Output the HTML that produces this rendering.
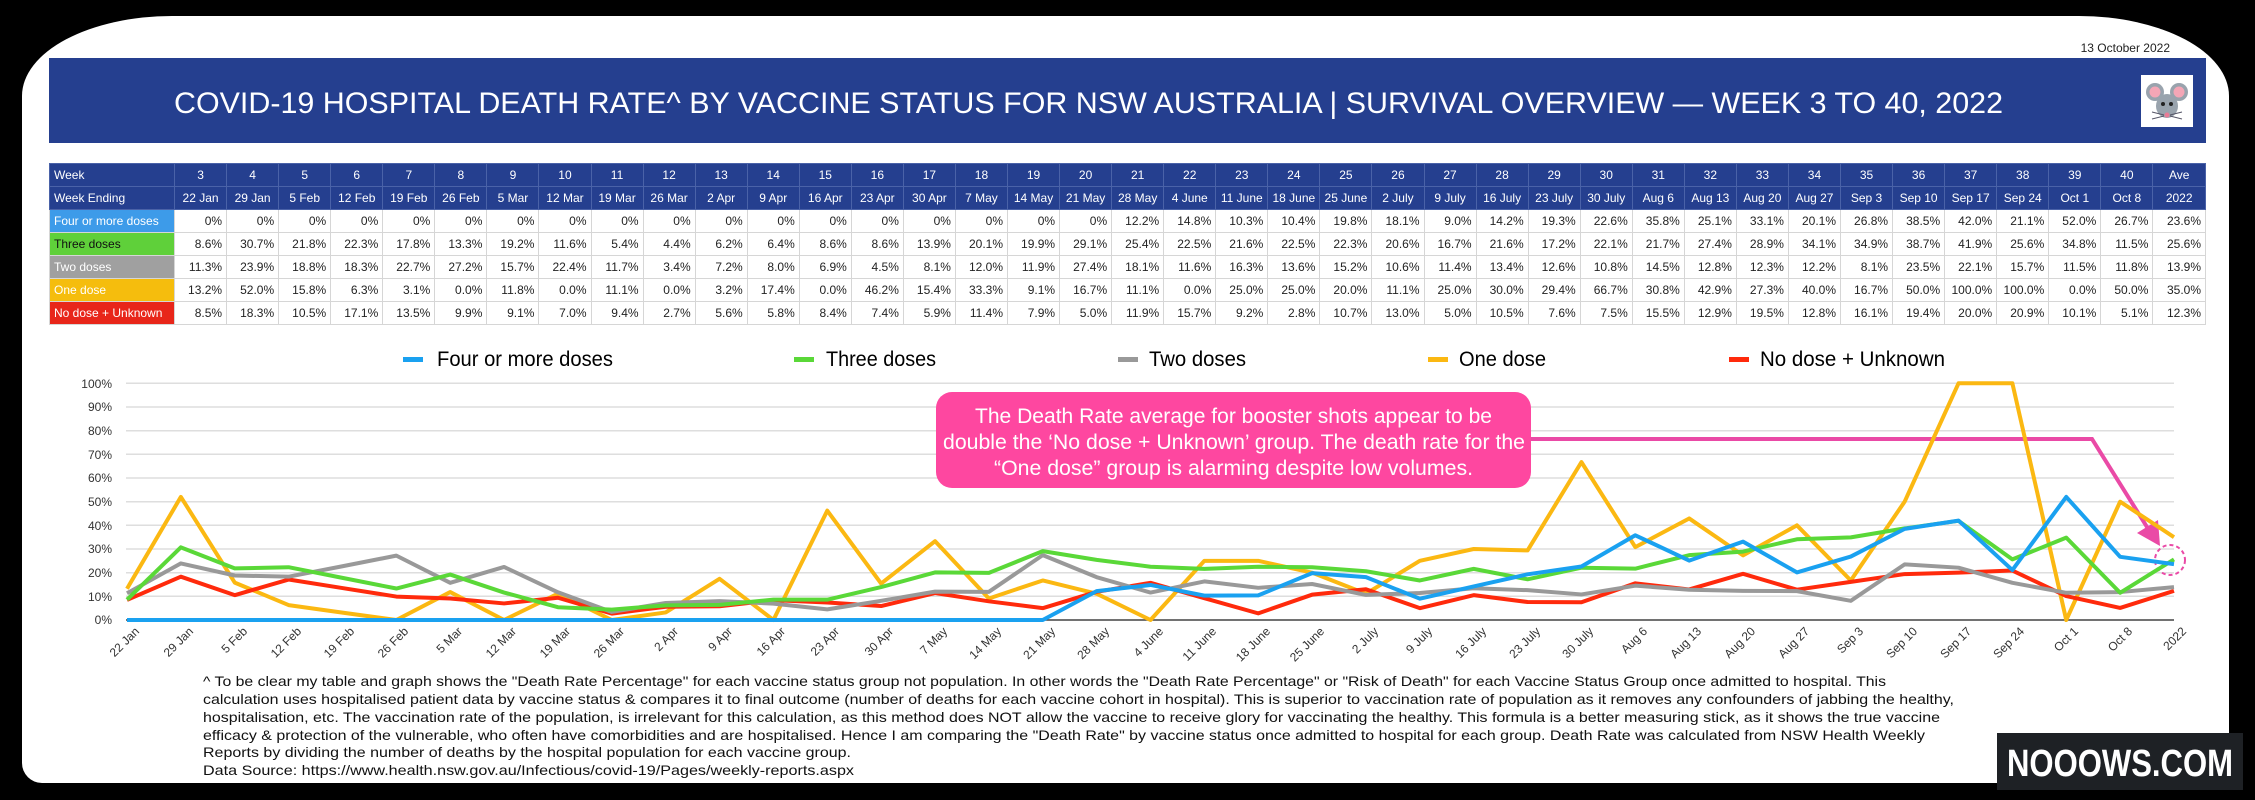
<!DOCTYPE html>
<html><head><meta charset="utf-8"><style>
html,body{margin:0;padding:0;background:#000;}
body{width:2255px;height:800px;position:relative;overflow:hidden;font-family:"Liberation Sans",sans-serif;}
#card{position:absolute;left:22px;top:16px;width:2207px;height:767px;background:#fff;border-radius:150px 150px 20px 20px / 80px 80px 20px 20px;}
table{position:absolute;left:49px;top:163px;width:2157px;border-collapse:collapse;table-layout:fixed;font-size:12px;}
td{height:22px;padding:0 4px 0 0;text-align:right;border:1px solid #d6d6d6;color:#222;white-space:nowrap;overflow:hidden;}
tr.h td{background:#253f8f;color:#fff;text-align:center;padding:0;border-color:#4a62a8;}
td.l{text-align:left;padding-left:4px;color:#fff;}
tr.h td.l{text-align:left;padding-left:4px}
.b td.l{background:#3d9be9}.g td.l{background:#5fd03a;color:#111}.y td.l{background:#f5bd0d}.gr td.l{background:#a0a0a0}.r td.l{background:#e8261a}
svg{position:absolute;left:0;top:0}
</style></head><body>
<div id="card"></div>
<table>
<colgroup><col style="width:125px"></colgroup>
<tr class="h"><td class="l">Week</td><td>3</td><td>4</td><td>5</td><td>6</td><td>7</td><td>8</td><td>9</td><td>10</td><td>11</td><td>12</td><td>13</td><td>14</td><td>15</td><td>16</td><td>17</td><td>18</td><td>19</td><td>20</td><td>21</td><td>22</td><td>23</td><td>24</td><td>25</td><td>26</td><td>27</td><td>28</td><td>29</td><td>30</td><td>31</td><td>32</td><td>33</td><td>34</td><td>35</td><td>36</td><td>37</td><td>38</td><td>39</td><td>40</td><td>Ave</td></tr>
<tr class="h"><td class="l">Week Ending</td><td>22 Jan</td><td>29 Jan</td><td>5 Feb</td><td>12 Feb</td><td>19 Feb</td><td>26 Feb</td><td>5 Mar</td><td>12 Mar</td><td>19 Mar</td><td>26 Mar</td><td>2 Apr</td><td>9 Apr</td><td>16 Apr</td><td>23 Apr</td><td>30 Apr</td><td>7 May</td><td>14 May</td><td>21 May</td><td>28 May</td><td>4 June</td><td>11 June</td><td>18 June</td><td>25 June</td><td>2 July</td><td>9 July</td><td>16 July</td><td>23 July</td><td>30 July</td><td>Aug 6</td><td>Aug 13</td><td>Aug 20</td><td>Aug 27</td><td>Sep 3</td><td>Sep 10</td><td>Sep 17</td><td>Sep 24</td><td>Oct 1</td><td>Oct 8</td><td>2022</td></tr>
<tr class="b"><td class="l">Four or more doses</td><td>0%</td><td>0%</td><td>0%</td><td>0%</td><td>0%</td><td>0%</td><td>0%</td><td>0%</td><td>0%</td><td>0%</td><td>0%</td><td>0%</td><td>0%</td><td>0%</td><td>0%</td><td>0%</td><td>0%</td><td>0%</td><td>12.2%</td><td>14.8%</td><td>10.3%</td><td>10.4%</td><td>19.8%</td><td>18.1%</td><td>9.0%</td><td>14.2%</td><td>19.3%</td><td>22.6%</td><td>35.8%</td><td>25.1%</td><td>33.1%</td><td>20.1%</td><td>26.8%</td><td>38.5%</td><td>42.0%</td><td>21.1%</td><td>52.0%</td><td>26.7%</td><td>23.6%</td></tr>
<tr class="g"><td class="l">Three doses</td><td>8.6%</td><td>30.7%</td><td>21.8%</td><td>22.3%</td><td>17.8%</td><td>13.3%</td><td>19.2%</td><td>11.6%</td><td>5.4%</td><td>4.4%</td><td>6.2%</td><td>6.4%</td><td>8.6%</td><td>8.6%</td><td>13.9%</td><td>20.1%</td><td>19.9%</td><td>29.1%</td><td>25.4%</td><td>22.5%</td><td>21.6%</td><td>22.5%</td><td>22.3%</td><td>20.6%</td><td>16.7%</td><td>21.6%</td><td>17.2%</td><td>22.1%</td><td>21.7%</td><td>27.4%</td><td>28.9%</td><td>34.1%</td><td>34.9%</td><td>38.7%</td><td>41.9%</td><td>25.6%</td><td>34.8%</td><td>11.5%</td><td>25.6%</td></tr>
<tr class="gr"><td class="l">Two doses</td><td>11.3%</td><td>23.9%</td><td>18.8%</td><td>18.3%</td><td>22.7%</td><td>27.2%</td><td>15.7%</td><td>22.4%</td><td>11.7%</td><td>3.4%</td><td>7.2%</td><td>8.0%</td><td>6.9%</td><td>4.5%</td><td>8.1%</td><td>12.0%</td><td>11.9%</td><td>27.4%</td><td>18.1%</td><td>11.6%</td><td>16.3%</td><td>13.6%</td><td>15.2%</td><td>10.6%</td><td>11.4%</td><td>13.4%</td><td>12.6%</td><td>10.8%</td><td>14.5%</td><td>12.8%</td><td>12.3%</td><td>12.2%</td><td>8.1%</td><td>23.5%</td><td>22.1%</td><td>15.7%</td><td>11.5%</td><td>11.8%</td><td>13.9%</td></tr>
<tr class="y"><td class="l">One dose</td><td>13.2%</td><td>52.0%</td><td>15.8%</td><td>6.3%</td><td>3.1%</td><td>0.0%</td><td>11.8%</td><td>0.0%</td><td>11.1%</td><td>0.0%</td><td>3.2%</td><td>17.4%</td><td>0.0%</td><td>46.2%</td><td>15.4%</td><td>33.3%</td><td>9.1%</td><td>16.7%</td><td>11.1%</td><td>0.0%</td><td>25.0%</td><td>25.0%</td><td>20.0%</td><td>11.1%</td><td>25.0%</td><td>30.0%</td><td>29.4%</td><td>66.7%</td><td>30.8%</td><td>42.9%</td><td>27.3%</td><td>40.0%</td><td>16.7%</td><td>50.0%</td><td>100.0%</td><td>100.0%</td><td>0.0%</td><td>50.0%</td><td>35.0%</td></tr>
<tr class="r"><td class="l">No dose + Unknown</td><td>8.5%</td><td>18.3%</td><td>10.5%</td><td>17.1%</td><td>13.5%</td><td>9.9%</td><td>9.1%</td><td>7.0%</td><td>9.4%</td><td>2.7%</td><td>5.6%</td><td>5.8%</td><td>8.4%</td><td>7.4%</td><td>5.9%</td><td>11.4%</td><td>7.9%</td><td>5.0%</td><td>11.9%</td><td>15.7%</td><td>9.2%</td><td>2.8%</td><td>10.7%</td><td>13.0%</td><td>5.0%</td><td>10.5%</td><td>7.6%</td><td>7.5%</td><td>15.5%</td><td>12.9%</td><td>19.5%</td><td>12.8%</td><td>16.1%</td><td>19.4%</td><td>20.0%</td><td>20.9%</td><td>10.1%</td><td>5.1%</td><td>12.3%</td></tr>
</table>
<svg width="2255" height="800" viewBox="0 0 2255 800" font-family="Liberation Sans, sans-serif">
<text x="2170" y="52" font-size="12" fill="#222" text-anchor="end">13 October 2022</text>
<rect x="49" y="58" width="2157" height="85" fill="#253f8f"/>
<text x="174" y="113" font-size="30" fill="#fff" textLength="1829" lengthAdjust="spacingAndGlyphs">COVID-19 HOSPITAL DEATH RATE^ BY VACCINE STATUS FOR NSW AUSTRALIA  |  SURVIVAL OVERVIEW — WEEK 3 TO 40, 2022</text>
<rect x="2141" y="75" width="52" height="52" fill="#fff"/>
<circle cx="2155" cy="92" r="9" fill="#99a3ad"/><circle cx="2179" cy="92" r="9" fill="#99a3ad"/>
<circle cx="2155" cy="92" r="5.5" fill="#f4a6b6"/><circle cx="2179" cy="92" r="5.5" fill="#f4a6b6"/>
<ellipse cx="2167" cy="106" rx="11" ry="12" fill="#99a3ad"/>
<circle cx="2163" cy="104" r="2" fill="#222"/><circle cx="2171" cy="104" r="2" fill="#222"/>
<circle cx="2167" cy="115" r="2.5" fill="#e97a95"/>
<path d="M2152 112 L2164 115 M2152 119 L2164 116 M2182 112 L2170 115 M2182 119 L2170 116" stroke="#556" stroke-width="1"/>
<!-- legend -->
<g font-size="21">
<rect x="403" y="357" width="20" height="5" fill="#1aa1f0"/><text x="437" y="366" textLength="176" lengthAdjust="spacingAndGlyphs">Four or more doses</text>
<rect x="794" y="357" width="20" height="5" fill="#5ad838"/><text x="826" y="366" textLength="110" lengthAdjust="spacingAndGlyphs">Three doses</text>
<rect x="1118" y="357" width="20" height="5" fill="#999"/><text x="1149" y="366" textLength="97" lengthAdjust="spacingAndGlyphs">Two doses</text>
<rect x="1428" y="357" width="20" height="5" fill="#fbb812"/><text x="1459" y="366" textLength="87" lengthAdjust="spacingAndGlyphs">One dose</text>
<rect x="1729" y="357" width="20" height="5" fill="#ff2a0c"/><text x="1760" y="366" textLength="185" lengthAdjust="spacingAndGlyphs">No dose + Unknown</text>
</g>
<!-- grid -->
<g stroke="#dedede" stroke-width="1.5">
<line x1="126" x2="2174" y1="383.3" y2="383.3"/><line x1="126" x2="2174" y1="407" y2="407"/><line x1="126" x2="2174" y1="430.7" y2="430.7"/><line x1="126" x2="2174" y1="454.3" y2="454.3"/><line x1="126" x2="2174" y1="478" y2="478"/><line x1="126" x2="2174" y1="501.7" y2="501.7"/><line x1="126" x2="2174" y1="525.3" y2="525.3"/><line x1="126" x2="2174" y1="549" y2="549"/><line x1="126" x2="2174" y1="572.7" y2="572.7"/><line x1="126" x2="2174" y1="596.3" y2="596.3"/>
</g>
<line x1="126" x2="2174" y1="620" y2="620" stroke="#444" stroke-width="1.5"/>
<g font-size="12" fill="#333" text-anchor="end">
<text x="112" y="388">100%</text><text x="112" y="411">90%</text><text x="112" y="435">80%</text><text x="112" y="459">70%</text><text x="112" y="482">60%</text><text x="112" y="506">50%</text><text x="112" y="530">40%</text><text x="112" y="553">30%</text><text x="112" y="577">20%</text><text x="112" y="601">10%</text><text x="112" y="624">0%</text>
</g>
<!-- callout -->
<path d="M1531 439 H2092 L2152 535" fill="none" stroke="#ea4aa6" stroke-width="4"/>
<polygon points="2160,546 2137,533 2158,520" fill="#ea4aa6"/>
<circle cx="2170" cy="560" r="15" fill="none" stroke="#ea4aa6" stroke-width="2" stroke-dasharray="4 3"/>
<g fill="none" stroke-width="4" stroke-linejoin="round" transform="translate(127,620) scale(53.868,-2.367)">
<polyline vector-effect="non-scaling-stroke" stroke="#fbb812" points="0,13.2 1,52 2,15.8 3,6.3 4,3.1 5,0 6,11.8 7,0 8,11.1 9,0 10,3.2 11,17.4 12,0 13,46.2 14,15.4 15,33.3 16,9.1 17,16.7 18,11.1 19,0 20,25 21,25 22,20 23,11.1 24,25 25,30 26,29.4 27,66.7 28,30.8 29,42.9 30,27.3 31,40 32,16.7 33,50 34,100 35,100 36,0 37,50 38,35"/>
<polyline vector-effect="non-scaling-stroke" stroke="#ff2a0c" points="0,8.5 1,18.3 2,10.5 3,17.1 4,13.5 5,9.9 6,9.1 7,7 8,9.4 9,2.7 10,5.6 11,5.8 12,8.4 13,7.4 14,5.9 15,11.4 16,7.9 17,5 18,11.9 19,15.7 20,9.2 21,2.8 22,10.7 23,13 24,5 25,10.5 26,7.6 27,7.5 28,15.5 29,12.9 30,19.5 31,12.8 32,16.1 33,19.4 34,20 35,20.9 36,10.1 37,5.1 38,12.3"/>
<polyline vector-effect="non-scaling-stroke" stroke="#999" points="0,11.3 1,23.9 2,18.8 3,18.3 4,22.7 5,27.2 6,15.7 7,22.4 8,11.7 9,3.4 10,7.2 11,8 12,6.9 13,4.5 14,8.1 15,12 16,11.9 17,27.4 18,18.1 19,11.6 20,16.3 21,13.6 22,15.2 23,10.6 24,11.4 25,13.4 26,12.6 27,10.8 28,14.5 29,12.8 30,12.3 31,12.2 32,8.1 33,23.5 34,22.1 35,15.7 36,11.5 37,11.8 38,13.9"/>
<polyline vector-effect="non-scaling-stroke" stroke="#5ad838" points="0,8.6 1,30.7 2,21.8 3,22.3 4,17.8 5,13.3 6,19.2 7,11.6 8,5.4 9,4.4 10,6.2 11,6.4 12,8.6 13,8.6 14,13.9 15,20.1 16,19.9 17,29.1 18,25.4 19,22.5 20,21.6 21,22.5 22,22.3 23,20.6 24,16.7 25,21.6 26,17.2 27,22.1 28,21.7 29,27.4 30,28.9 31,34.1 32,34.9 33,38.7 34,41.9 35,25.6 36,34.8 37,11.5 38,25.6"/>
<polyline vector-effect="non-scaling-stroke" stroke="#1aa1f0" points="0,0 17,0 18,12.2 19,14.8 20,10.3 21,10.4 22,19.8 23,18.1 24,9 25,14.2 26,19.3 27,22.6 28,35.8 29,25.1 30,33.1 31,20.1 32,26.8 33,38.5 34,42 35,21.1 36,52 37,26.7 38,23.6"/>
</g>
<rect x="936" y="392" width="595" height="96" rx="16" fill="#fe47a0"/>
<g font-size="21" fill="#fff">
<text x="975" y="423" textLength="517" lengthAdjust="spacingAndGlyphs">The Death Rate average for booster shots appear to be</text>
<text x="943" y="449" textLength="582" lengthAdjust="spacingAndGlyphs">double the ‘No dose + Unknown’ group. The death rate for the</text>
<text x="994" y="475" textLength="479" lengthAdjust="spacingAndGlyphs">“One dose” group is alarming despite low volumes.</text>
</g>
<!-- x labels -->
<g font-size="12" fill="#333" text-anchor="end">
<text transform="translate(140,632) rotate(-45)">22 Jan</text>
<text transform="translate(194,632) rotate(-45)">29 Jan</text>
<text transform="translate(248,632) rotate(-45)">5 Feb</text>
<text transform="translate(302,632) rotate(-45)">12 Feb</text>
<text transform="translate(355,632) rotate(-45)">19 Feb</text>
<text transform="translate(409,632) rotate(-45)">26 Feb</text>
<text transform="translate(463,632) rotate(-45)">5 Mar</text>
<text transform="translate(517,632) rotate(-45)">12 Mar</text>
<text transform="translate(571,632) rotate(-45)">19 Mar</text>
<text transform="translate(625,632) rotate(-45)">26 Mar</text>
<text transform="translate(679,632) rotate(-45)">2 Apr</text>
<text transform="translate(733,632) rotate(-45)">9 Apr</text>
<text transform="translate(786,632) rotate(-45)">16 Apr</text>
<text transform="translate(840,632) rotate(-45)">23 Apr</text>
<text transform="translate(894,632) rotate(-45)">30 Apr</text>
<text transform="translate(948,632) rotate(-45)">7 May</text>
<text transform="translate(1002,632) rotate(-45)">14 May</text>
<text transform="translate(1056,632) rotate(-45)">21 May</text>
<text transform="translate(1110,632) rotate(-45)">28 May</text>
<text transform="translate(1164,632) rotate(-45)">4 June</text>
<text transform="translate(1217,632) rotate(-45)">11 June</text>
<text transform="translate(1271,632) rotate(-45)">18 June</text>
<text transform="translate(1325,632) rotate(-45)">25 June</text>
<text transform="translate(1379,632) rotate(-45)">2 July</text>
<text transform="translate(1433,632) rotate(-45)">9 July</text>
<text transform="translate(1487,632) rotate(-45)">16 July</text>
<text transform="translate(1541,632) rotate(-45)">23 July</text>
<text transform="translate(1594,632) rotate(-45)">30 July</text>
<text transform="translate(1648,632) rotate(-45)">Aug 6</text>
<text transform="translate(1702,632) rotate(-45)">Aug 13</text>
<text transform="translate(1756,632) rotate(-45)">Aug 20</text>
<text transform="translate(1810,632) rotate(-45)">Aug 27</text>
<text transform="translate(1864,632) rotate(-45)">Sep 3</text>
<text transform="translate(1918,632) rotate(-45)">Sep 10</text>
<text transform="translate(1972,632) rotate(-45)">Sep 17</text>
<text transform="translate(2025,632) rotate(-45)">Sep 24</text>
<text transform="translate(2079,632) rotate(-45)">Oct 1</text>
<text transform="translate(2133,632) rotate(-45)">Oct 8</text>
<text transform="translate(2187,632) rotate(-45)">2022</text>
</g>
<!-- footnote -->
<g font-size="14" fill="#111">
<text x="203" y="686" textLength="1683" lengthAdjust="spacingAndGlyphs">^ To be clear my table and graph shows the "Death Rate Percentage" for each vaccine status group not population. In other words the "Death Rate Percentage" or "Risk of Death" for each Vaccine Status Group once admitted to hospital. This</text>
<text x="203" y="704" textLength="1751" lengthAdjust="spacingAndGlyphs">calculation uses hospitalised patient data by vaccine status &amp; compares it to final outcome (number of deaths for each vaccine cohort in hospital). This is superior to vaccination rate of population as it removes any confounders of jabbing the healthy,</text>
<text x="203" y="722" textLength="1737" lengthAdjust="spacingAndGlyphs">hospitalisation, etc. The vaccination rate of the population, is irrelevant for this calculation, as this method does NOT allow the vaccine to receive glory for vaccinating the healthy. This formula is a better measuring stick, as it shows the true vaccine</text>
<text x="203" y="740" textLength="1722" lengthAdjust="spacingAndGlyphs">efficacy &amp; protection of the vulnerable, who often have comorbidities and are hospitalised. Hence I am comparing the "Death Rate" by vaccine status once admitted to hospital for each group. Death Rate was calculated from NSW Health Weekly</text>
<text x="203" y="757" textLength="648" lengthAdjust="spacingAndGlyphs">Reports by dividing the number of deaths by the hospital population for each vaccine group.</text>
<text x="203" y="775" textLength="651" lengthAdjust="spacingAndGlyphs">Data Source: https://www.health.nsw.gov.au/Infectious/covid-19/Pages/weekly-reports.aspx</text>
</g>
<rect x="1997" y="733" width="246" height="57" fill="#1e2125"/>
<text x="2120" y="776" font-size="38" font-weight="bold" fill="#fff" text-anchor="middle" textLength="226" lengthAdjust="spacingAndGlyphs">NOOOWS.COM</text>
</svg>
</body></html>
